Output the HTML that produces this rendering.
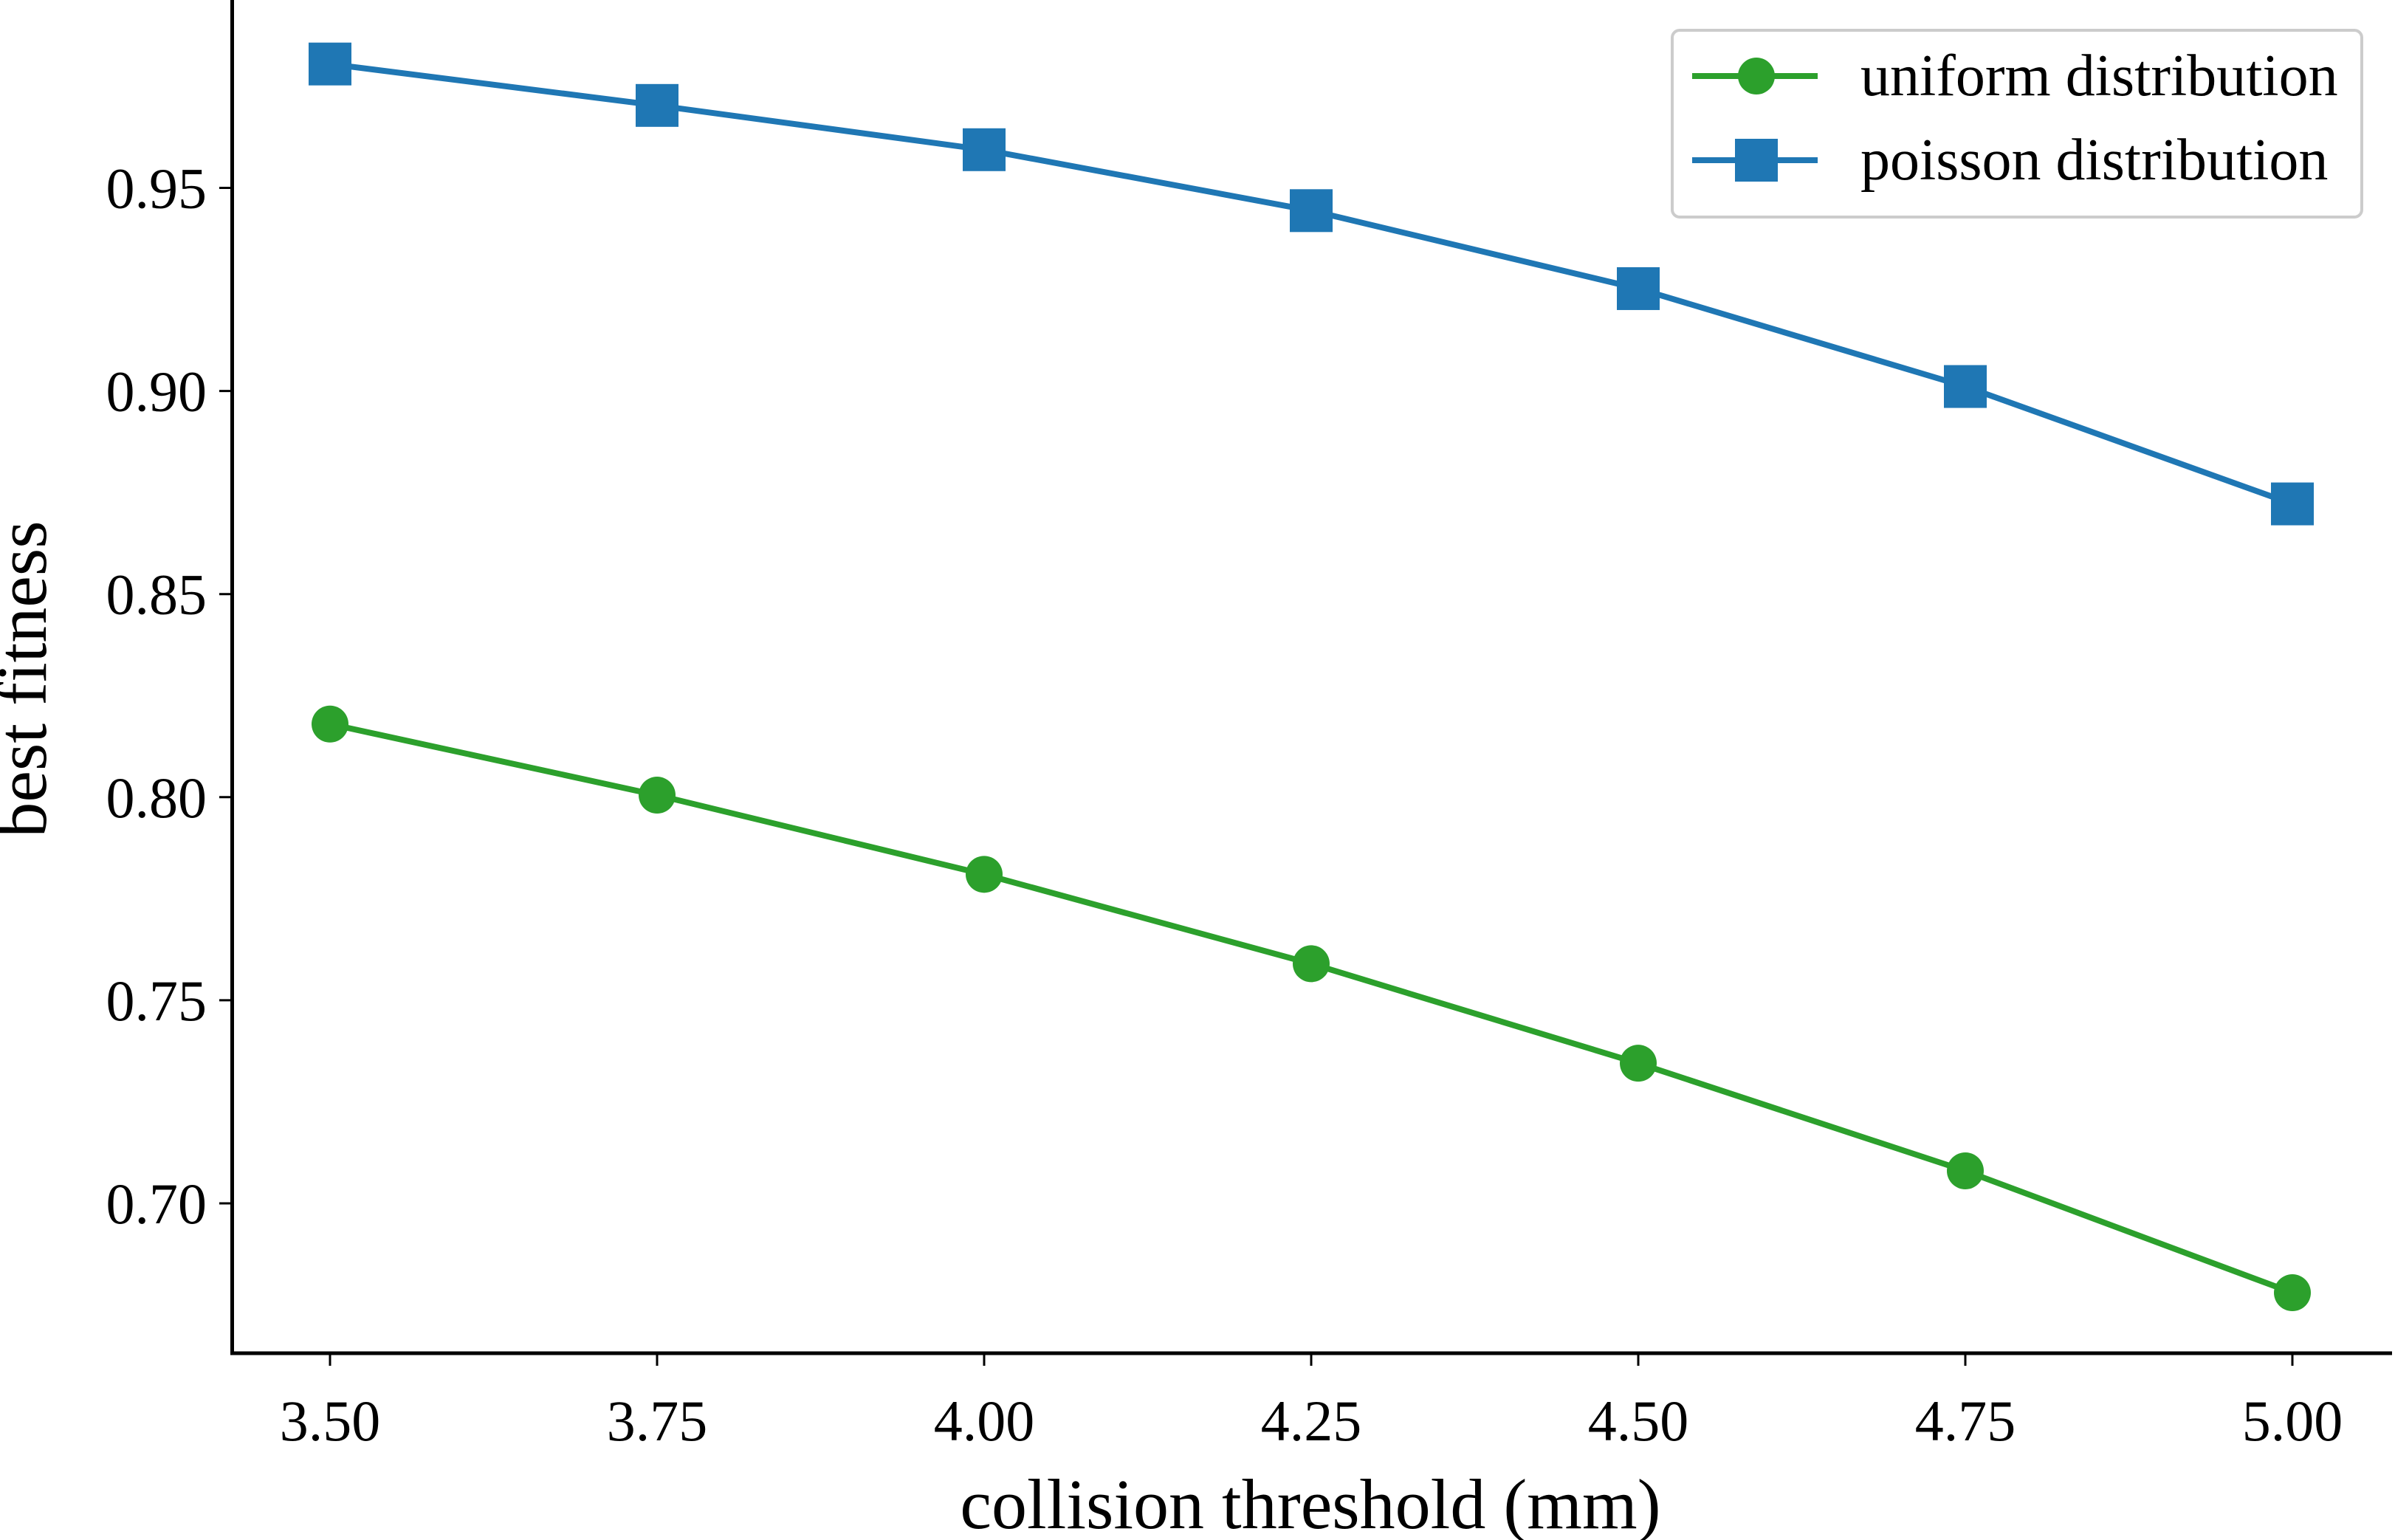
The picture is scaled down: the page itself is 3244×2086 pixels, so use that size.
<!DOCTYPE html>
<html><head><meta charset="utf-8"><style>
html,body{margin:0;padding:0;background:#fff}
svg{display:block}
text{font-family:"Liberation Serif",serif;fill:#000}
</style></head><body>
<svg id="chart" width="3244" height="2086" xmlns="http://www.w3.org/2000/svg">
<g id="axes"></g>
<g id="series"></g>
<g id="legend"></g>
</svg>
<script>
const xValues=[3.50,3.75,4.00,4.25,4.50,4.75,5.00];
const uniformValues=[0.818,0.8005,0.781,0.759,0.7345,0.708,0.678];
const poissonValues=[0.9805,0.9703,0.9594,0.9444,0.9252,0.9011,0.8722];
const xTicks=[3.50,3.75,4.00,4.25,4.50,4.75,5.00];
const xTickLabels=["3.50","3.75","4.00","4.25","4.50","4.75","5.00"];
const yTicks=[0.70,0.75,0.80,0.85,0.90,0.95];
const yTickLabels=["0.70","0.75","0.80","0.85","0.90","0.95"];

const NS="http://www.w3.org/2000/svg";
function xs(v){return 447+(v-3.5)/(1.5)*(3105-447);}
function ys(v){return 1630-(v-0.70)/0.25*(1630-254.5);}
function mk(tag,attrs,parent,txt){const e=document.createElementNS(NS,tag);for(const k in attrs)e.setAttribute(k,attrs[k]);if(txt!==undefined)e.textContent=txt;parent.appendChild(e);return e;}
const axes=document.getElementById('axes');
let e;
e=mk('line',{x1:314.5,y1:0,x2:314.5,y2:1835,stroke:'#000','stroke-width':5},axes);


e=mk('line',{x1:312,y1:1833,x2:3240,y2:1833,stroke:'#000','stroke-width':5},axes);


xTicks.forEach((t,i)=>{
  const x=xs(t);
  e=mk('line',{x1:x,y1:1833,x2:x,y2:1850,stroke:'#000','stroke-width':3},axes);
  
  
  e=mk('text',{x:x,y:1951,'text-anchor':'middle','font-size':78},axes,xTickLabels[i]);
  
  
});
yTicks.forEach((t,i)=>{
  const y=ys(t);
  e=mk('line',{x1:297,y1:y,x2:314.5,y2:y,stroke:'#000','stroke-width':3},axes);
  
  
  e=mk('text',{x:280,y:y+27,'text-anchor':'end','font-size':78},axes,yTickLabels[i]);
  
  
});
e=mk('text',{x:1775,y:2070,'text-anchor':'middle','font-size':96},axes,'collision threshold (mm)');


e=mk('text',{x:62,y:920,'text-anchor':'middle','font-size':96,transform:'rotate(-90 62 920)'},axes,'best fitness');



const series=document.getElementById('series');
function drawSeries(vals,color,shape,name){
  const pts=vals.map((v,i)=>xs(xValues[i])+','+ys(v)).join(' ');
  e=mk('polyline',{points:pts,fill:'none',stroke:color,'stroke-width':8},series);
  
  
  vals.forEach((v,i)=>{
    const x=xs(xValues[i]),y=ys(v);
    if(shape==='circle') e=mk('circle',{cx:x,cy:y,r:25,fill:color},series);
    else e=mk('rect',{x:x-29,y:y-29,width:58,height:58,fill:color},series);
    
    
  });
}
drawSeries(uniformValues,'#2ca02c','circle','uniform');
drawSeries(poissonValues,'#1f77b4','square','poisson');

const lg=document.getElementById('legend');
e=mk('rect',{x:2265,y:41,width:934,height:253,rx:10,fill:'#fff',stroke:'#ccc','stroke-width':4},lg);


e=mk('line',{x1:2292,y1:103,x2:2462,y2:103,stroke:'#2ca02c','stroke-width':8},lg);


e=mk('circle',{cx:2379,cy:103,r:25,fill:'#2ca02c'},lg);


e=mk('text',{x:2520,y:129,'font-size':80},lg,'uniform distribution');


e=mk('line',{x1:2292,y1:217,x2:2462,y2:217,stroke:'#1f77b4','stroke-width':8},lg);


e=mk('rect',{x:2350,y:188,width:58,height:58,fill:'#1f77b4'},lg);


e=mk('text',{x:2520,y:243,'font-size':80},lg,'poisson distribution');


</script>
</body></html>
